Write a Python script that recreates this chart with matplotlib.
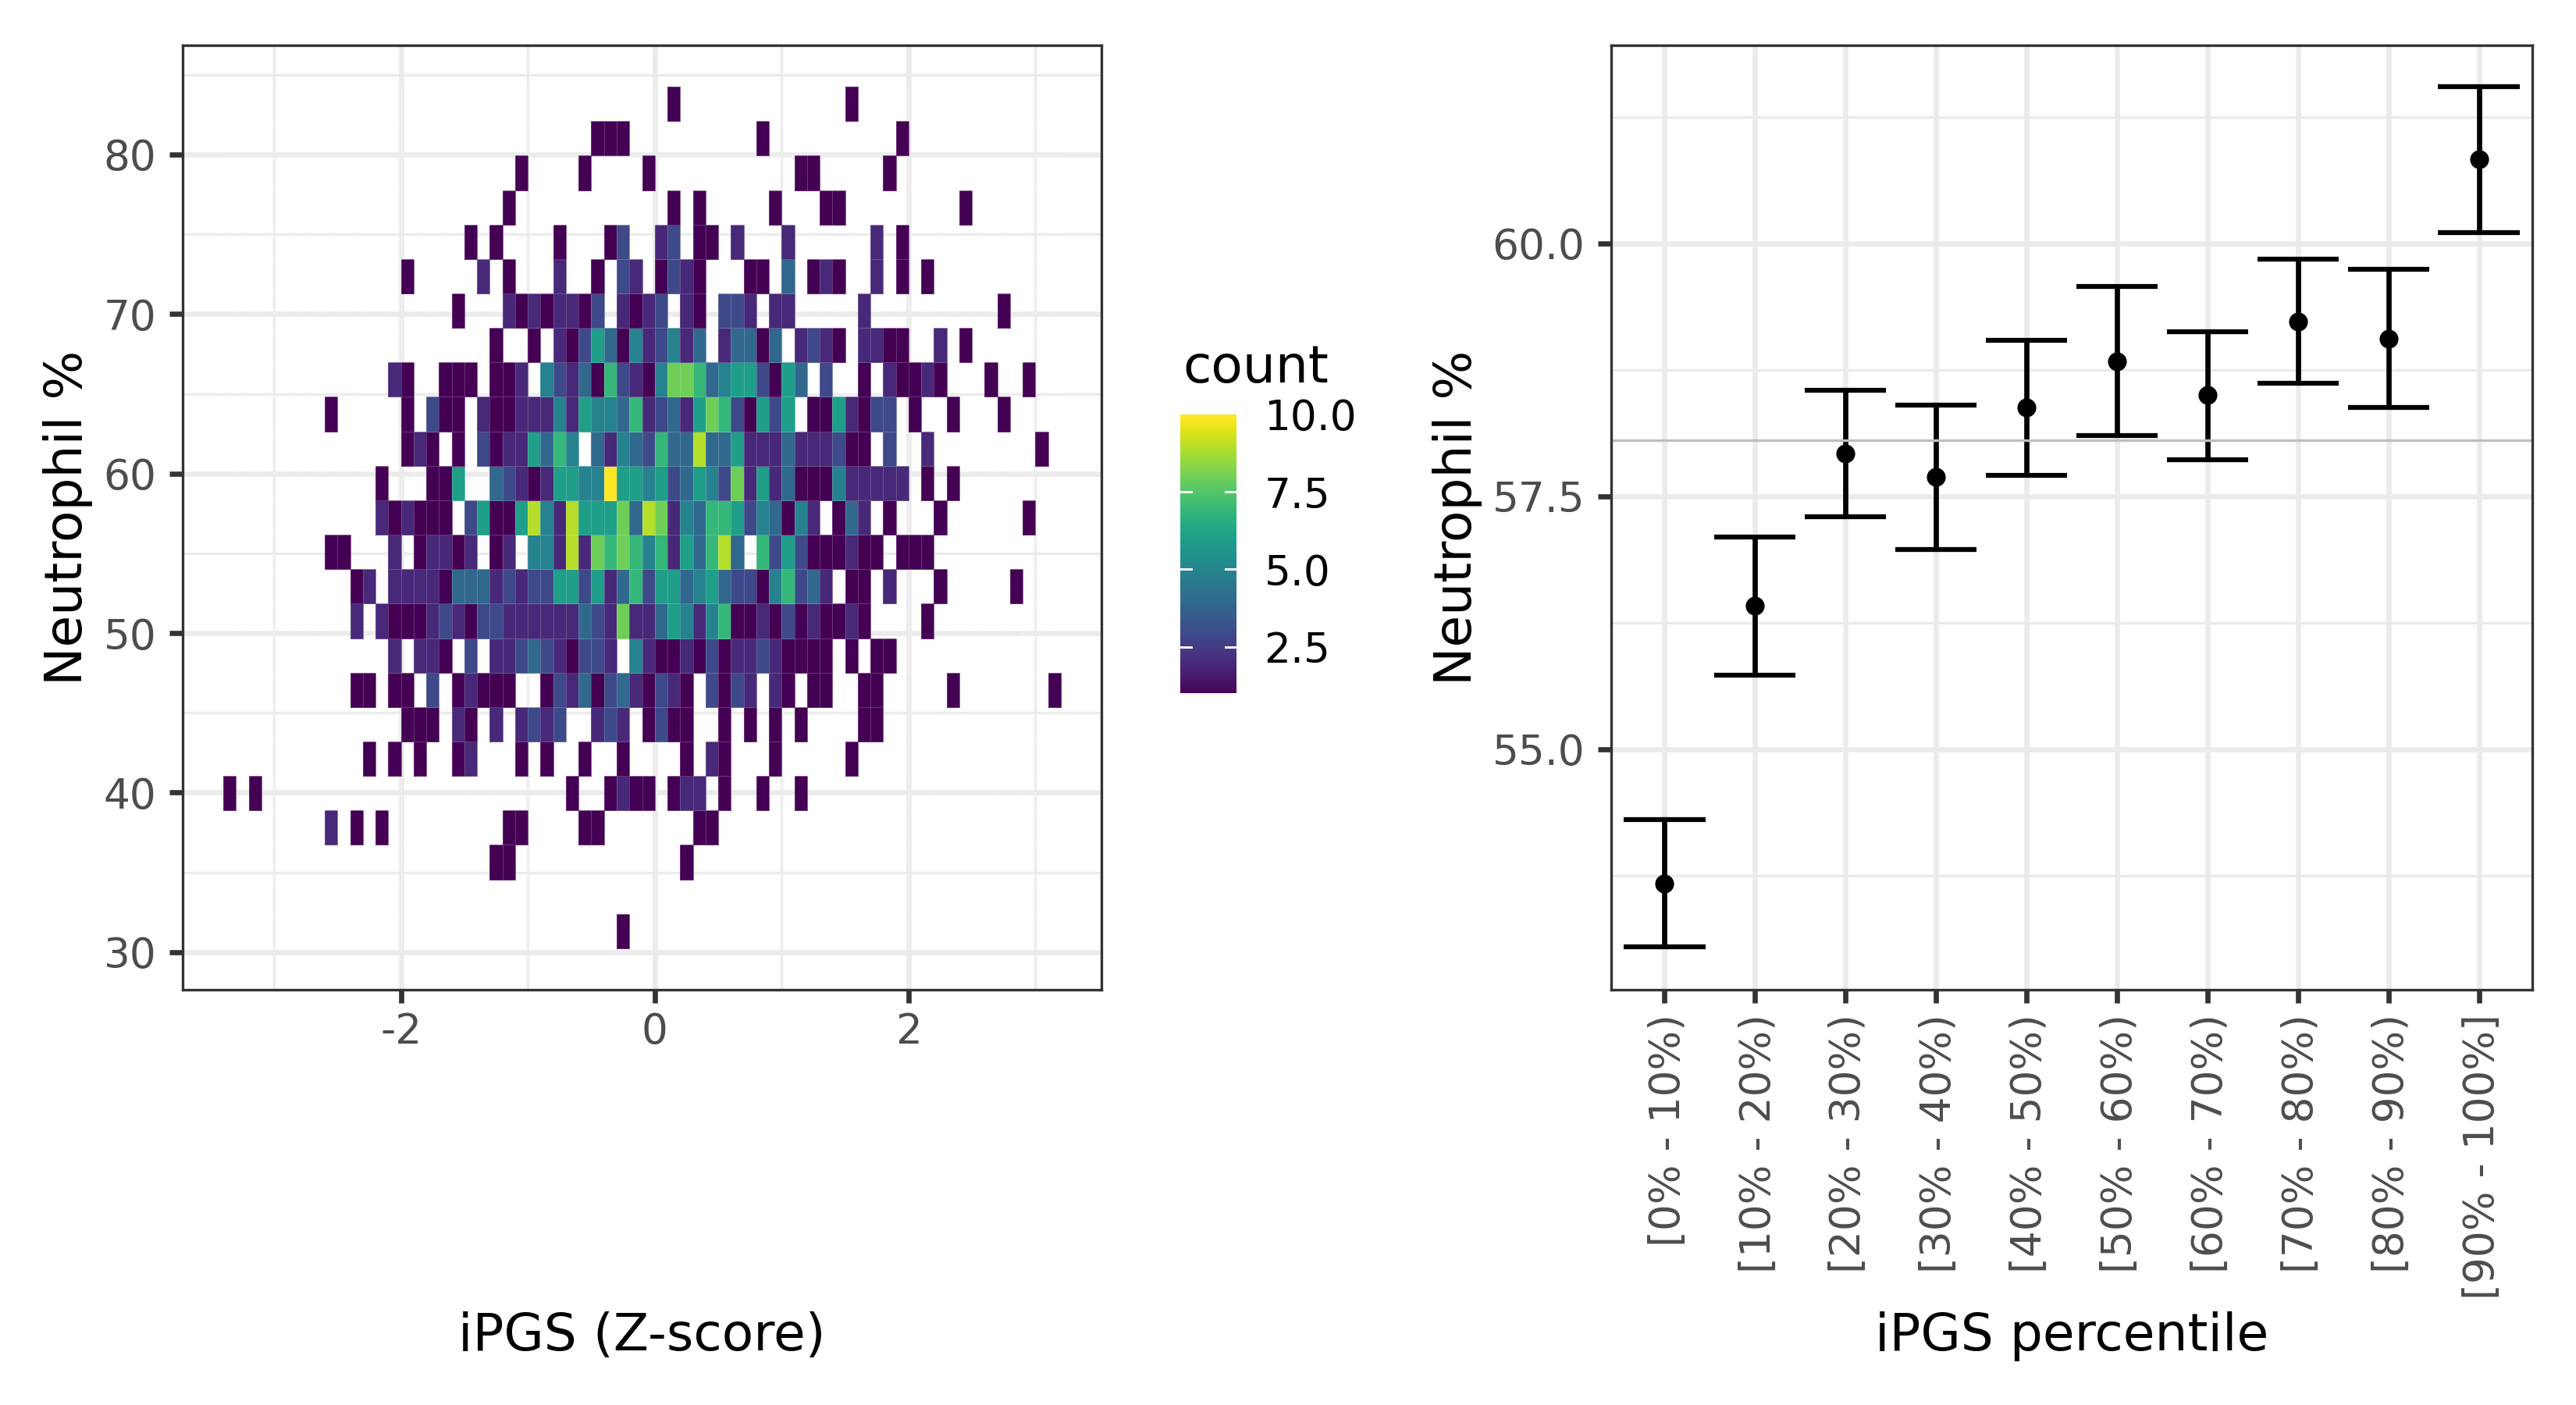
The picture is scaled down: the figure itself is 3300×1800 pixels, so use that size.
import matplotlib
matplotlib.use('Agg')
import matplotlib.pyplot as plt
from matplotlib.transforms import ScaledTranslation
import numpy as np

plt.rcParams['font.family'] = ['DejaVu Sans']
plt.rcParams['axes.unicode_minus'] = False

# Heatmap counts, one dict per row from the top row down: {column: count}
# A column index c is the bin from c*0.1 to (c+1)*0.1 on the x axis
row_00 = {1: 1, 15: 1}
row_01 = {-5: 1, -4: 1, -3: 1, 8: 1, 19: 1}
row_02 = {-11: 1, -6: 1, -1: 1, 11: 1, 12: 1, 18: 1}
row_03 = {-12: 1, 1: 1, 3: 1, 9: 1, 13: 1, 14: 1, 24: 1}
row_04 = {-15: 1, -13: 1, -8: 1, -4: 1, -3: 3, 0: 2, 1: 3, 3: 1, 4: 1, 6: 2, 10: 2, 17: 2, 19: 1}
row_05 = {-20: 1, -14: 2, -12: 1, -8: 2, -5: 1, -3: 3, -2: 2, 0: 1, 1: 3, 2: 2, 3: 1, 7: 1, 8: 1,
          10: 4, 12: 1, 13: 2, 14: 1, 17: 2, 19: 1, 21: 1}
row_06 = {-16: 1, -12: 2, -11: 1, -10: 2, -9: 1, -8: 2, -7: 2, -6: 1, -5: 3, -3: 2, -2: 1, -1: 2,
          0: 3, 2: 2, 3: 1, 5: 3, 6: 3, 7: 2, 9: 2, 10: 2, 16: 2, 27: 1}
row_07 = {-13: 1, -10: 1, -8: 2, -7: 1, -6: 3, -5: 6, -4: 4, -3: 1, -2: 5, -1: 2, 0: 3, 1: 5, 2: 2,
          3: 4, 5: 2, 6: 4, 7: 4, 8: 1, 9: 4, 11: 2, 12: 3, 13: 2, 14: 1, 16: 2, 17: 2, 18: 1,
          19: 1, 22: 2, 24: 1}
row_08 = {-21: 2, -20: 1, -17: 1, -16: 1, -15: 1, -13: 1, -12: 1, -11: 2, -9: 5, -8: 3, -7: 2,
          -6: 4, -5: 1, -4: 7, -3: 3, -2: 2, -1: 1, 0: 5, 1: 8, 2: 8, 3: 7, 4: 4, 5: 5, 6: 6, 7: 6,
          8: 3, 9: 1, 10: 6, 11: 4, 13: 3, 16: 1, 18: 2, 19: 1, 20: 1, 21: 2, 22: 1, 26: 1, 29: 1}
row_09 = {-26: 1, -20: 1, -18: 3, -17: 1, -16: 1, -14: 2, -13: 1, -12: 1, -11: 2, -10: 2, -9: 2,
          -8: 5, -7: 2, -6: 6, -5: 5, -4: 5, -3: 4, -2: 7, -1: 2, 0: 3, 1: 4, 2: 2, 3: 6, 4: 8,
          5: 7, 6: 3, 7: 1, 8: 6, 9: 3, 10: 6, 12: 1, 13: 1, 14: 6, 15: 2, 16: 1, 17: 3, 18: 3,
          20: 1, 23: 1, 27: 1}
row_10 = {-20: 1, -19: 2, -18: 1, -16: 1, -14: 3, -13: 1, -12: 2, -11: 2, -10: 6, -9: 4, -8: 7,
          -7: 5, -5: 4, -4: 2, -3: 5, -2: 4, -1: 3, 0: 7, 1: 4, 2: 4, 3: 9, 4: 4, 5: 4, 6: 6, 7: 2,
          8: 2, 9: 2, 10: 4, 11: 2, 12: 2, 13: 2, 14: 3, 15: 1, 16: 1, 18: 3, 21: 2, 30: 1}
row_11 = {-22: 1, -18: 1, -17: 1, -16: 6, -13: 4, -12: 3, -11: 2, -10: 1, -9: 2, -8: 6, -7: 6,
          -6: 5, -5: 5, -4: 10, -3: 6, -2: 6, -1: 5, 0: 6, 1: 3, 2: 4, 3: 6, 4: 5, 5: 3, 6: 8,
          7: 2, 8: 6, 9: 2, 10: 4, 11: 1, 12: 1, 13: 1, 14: 5, 15: 2, 16: 2, 17: 2, 18: 2, 19: 2,
          21: 1, 23: 1}
row_12 = {-22: 2, -21: 1, -20: 2, -19: 1, -18: 1, -17: 1, -15: 3, -14: 6, -13: 1, -12: 1, -11: 6,
          -10: 9, -9: 5, -8: 2, -7: 9, -6: 6, -5: 6, -4: 6, -3: 8, -2: 4, -1: 9, 0: 8, 1: 2, 2: 5,
          3: 4, 4: 7, 5: 7, 6: 6, 7: 3, 8: 5, 9: 4, 10: 1, 11: 5, 12: 2, 14: 1, 15: 4, 16: 2,
          18: 1, 22: 1, 29: 1}
row_13 = {-26: 1, -25: 1, -21: 2, -19: 1, -18: 2, -17: 2, -16: 1, -15: 2, -13: 1, -12: 2, -10: 5,
          -9: 5, -8: 2, -7: 9, -6: 2, -5: 8, -4: 7, -3: 8, -2: 7, -1: 5, 0: 7, 1: 2, 2: 6, 3: 4,
          4: 7, 5: 9, 6: 4, 8: 7, 9: 3, 10: 6, 11: 3, 12: 1, 13: 1, 14: 1, 15: 2, 16: 1, 17: 1,
          19: 1, 20: 1, 21: 1}
row_14 = {-24: 1, -23: 2, -21: 2, -20: 2, -19: 2, -18: 2, -17: 1, -16: 4, -15: 4, -14: 4, -13: 2,
          -12: 3, -11: 2, -10: 3, -9: 3, -8: 6, -7: 6, -6: 3, -5: 6, -4: 2, -3: 4, -2: 7, -1: 3,
          0: 6, 1: 6, 2: 4, 3: 5, 4: 6, 5: 4, 6: 3, 7: 3, 8: 1, 9: 5, 10: 7, 11: 3, 12: 4, 13: 2,
          15: 1, 16: 1, 18: 2, 22: 1, 28: 1}
row_15 = {-24: 2, -22: 2, -21: 1, -20: 1, -19: 1, -18: 2, -17: 3, -16: 2, -15: 1, -14: 3, -13: 3,
          -12: 2, -11: 2, -10: 2, -9: 2, -8: 2, -7: 2, -6: 4, -5: 3, -4: 2, -3: 8, -2: 2, -1: 2,
          0: 4, 1: 6, 2: 5, 3: 2, 4: 5, 5: 7, 6: 1, 7: 1, 8: 2, 9: 1, 10: 3, 11: 1, 12: 2, 13: 1,
          14: 1, 15: 2, 16: 1, 21: 1}
row_16 = {-21: 2, -19: 2, -18: 2, -17: 1, -15: 3, -13: 2, -12: 2, -11: 3, -10: 4, -9: 3, -8: 2,
          -7: 1, -6: 3, -5: 3, -4: 2, -2: 5, -1: 2, 0: 1, 1: 1, 2: 2, 3: 1, 4: 3, 5: 1, 6: 2, 7: 2,
          8: 3, 9: 2, 10: 1, 11: 1, 12: 1, 13: 1, 15: 1, 17: 1, 18: 1}
row_17 = {-24: 1, -23: 1, -21: 1, -20: 1, -18: 3, -16: 1, -15: 2, -14: 1, -13: 1, -12: 1, -9: 1,
          -8: 3, -7: 2, -6: 4, -5: 1, -4: 3, -3: 4, -2: 2, -1: 1, 0: 3, 1: 2, 2: 1, 4: 3, 5: 1,
          6: 3, 7: 2, 9: 2, 10: 1, 12: 1, 13: 1, 16: 1, 17: 1, 23: 1, 31: 1}
row_18 = {-20: 1, -19: 1, -18: 1, -16: 2, -15: 1, -13: 2, -11: 2, -10: 3, -9: 2, -8: 3, -5: 2,
          -4: 3, -3: 2, -1: 1, 0: 3, 1: 1, 2: 1, 5: 1, 7: 1, 9: 1, 11: 1, 16: 1, 17: 1}
row_19 = {-23: 1, -21: 1, -19: 1, -16: 1, -15: 2, -11: 1, -9: 1, -6: 1, -3: 1, 2: 1, 4: 2, 5: 1,
          9: 1, 15: 1}
row_20 = {-34: 1, -32: 1, -7: 1, -4: 1, -3: 2, -2: 1, -1: 1, 1: 1, 2: 2, 3: 2, 5: 1, 8: 1, 11: 1}
row_21 = {-26: 2, -24: 1, -22: 1, -12: 1, -11: 1, -6: 1, -5: 1, 3: 1, 4: 1}
row_22 = {-13: 1, -12: 1, 2: 1}
row_23 = {}
row_24 = {-3: 1}
heat_rows = [row_00, row_01, row_02, row_03, row_04, row_05, row_06, row_07, row_08, row_09,
             row_10, row_11, row_12, row_13, row_14, row_15, row_16, row_17, row_18, row_19,
             row_20, row_21, row_22, row_23, row_24]

# Bin layout of the heatmap
x_bin = 0.1
first_col = -34
last_col = 31
y_bottom = 30.24
y_bin = 2.1604

# Percentile panel
percentile_labels = ['[0% - 10%)', '[10% - 20%)', '[20% - 30%)', '[30% - 40%)', '[40% - 50%)',
                     '[50% - 60%)', '[60% - 70%)', '[70% - 80%)', '[80% - 90%)', '[90% - 100%]']
means = [53.67, 56.415, 57.924, 57.69, 58.375, 58.836, 58.50, 59.23, 59.06, 60.833]
upper = [54.304, 57.10, 58.55, 58.40, 59.04, 59.573, 59.13, 59.845, 59.745, 61.553]
lower = [53.045, 55.73, 57.30, 56.97, 57.71, 58.10, 57.865, 58.62, 58.38, 60.11]
overall_mean = 58.054

W, H = 3300, 1800
ink = '#333333'
label_grey = '#4D4D4D'
grid_grey = '#EBEBEB'
major_lw = 1.6
minor_lw = 0.8
title_size = 15.9
tick_size = 12.8


def px_axes(fig, left, top, right, bottom):
    # axes from pixel edges, y counted from the top of the picture
    return fig.add_axes([left / W, 1 - bottom / H, (right - left) / W, (bottom - top) / H])


def style_panel(ax):
    ax.set_axisbelow(True)
    ax.grid(which='major', color=grid_grey, lw=major_lw)
    ax.grid(which='minor', color=grid_grey, lw=minor_lw)
    ax.tick_params(which='major', length=4.1, width=1.6, color=ink, labelcolor=label_grey,
                   labelsize=tick_size)
    ax.tick_params(which='minor', length=0)
    for spine in ax.spines.values():
        spine.set_color(ink)
        spine.set_linewidth(0.8)
        spine.set_zorder(5)


fig = plt.figure(figsize=(W / 300, H / 300), dpi=300, facecolor='white')

# Left panel: 2D histogram
counts = np.full((len(heat_rows), last_col - first_col + 1), np.nan)
for r, row in enumerate(heat_rows):
    for col, n in row.items():
        counts[len(heat_rows) - 1 - r, col - first_col] = n
x_edges = np.arange(first_col, last_col + 2) * x_bin
y_edges = y_bottom + y_bin * np.arange(len(heat_rows) + 1)

ax1 = px_axes(fig, 234, 58, 1411, 1268)
mesh = ax1.pcolormesh(x_edges, y_edges, counts, cmap='viridis', vmin=1, vmax=10,
                      edgecolors=(1, 1, 1, 0.2), linewidth=0.15, zorder=2)
ax1.set_xlim(-3.72, 3.52)
ax1.set_ylim(27.64, 86.85)
ax1.set_xticks([-2, 0, 2])
ax1.set_xticks([-3, -1, 1, 3], minor=True)
ax1.set_yticks([30, 40, 50, 60, 70, 80])
ax1.set_yticks([35, 45, 55, 65, 75, 85], minor=True)
style_panel(ax1)
ax1.tick_params(axis='x', which='major', pad=2.6)
ax1.tick_params(axis='y', which='major', pad=4)

# Legend for the left panel
cax = px_axes(fig, 1512, 531, 1584, 888)
cbar = fig.colorbar(mesh, cax=cax, ticks=[2.5, 5, 7.5, 10], format='%.1f')
cbar.outline.set_visible(False)
cbar.solids.set_edgecolor('face')
cax.tick_params(length=0, pad=8.5, labelsize=tick_size, labelcolor='black')
for t in [2.5, 5, 7.5]:
    cax.plot([0, 0.2], [t, t], color='white', lw=0.7, transform=cax.get_yaxis_transform())
    cax.plot([0.8, 1], [t, t], color='white', lw=0.7, transform=cax.get_yaxis_transform())
fig.text(1515 / W, 1 - 490 / H, 'count', fontsize=title_size, ha='left', va='baseline')

# Right panel: mean and error bars per percentile group
positions = np.arange(1, len(means) + 1)
ax2 = px_axes(fig, 2064, 58, 3244, 1268)
ax2.vlines(positions, lower, upper, color='black', lw=1.6, zorder=3)
ax2.hlines(upper, positions - 0.45, positions + 0.45, color='black', lw=1.5, zorder=3)
ax2.hlines(lower, positions - 0.45, positions + 0.45, color='black', lw=1.5, zorder=3)
ax2.axhline(overall_mean, color='#BEBEBE', lw=0.8, zorder=3.5)
ax2.plot(positions, means, 'o', color='black', ms=5.8, mew=0, zorder=4)
ax2.set_xlim(0.41, 10.59)
ax2.set_ylim(52.62, 61.96)
ax2.set_xticks(positions)
ax2.set_xticklabels(percentile_labels, rotation=90, ha='center', va='top')
ax2.set_yticks([55, 57.5, 60])
ax2.set_yticklabels(['55.0', '57.5', '60.0'])
ax2.set_yticks([53.75, 56.25, 58.75, 61.25], minor=True)
style_panel(ax2)
ax2.tick_params(axis='x', which='major', pad=3.4)
ax2.tick_params(axis='y', which='major', pad=4)

# rotated labels sit a little right of their ticks in the original
nudge = ScaledTranslation(1.0 / 72, 0, fig.dpi_scale_trans)
for label in ax2.get_xticklabels():
    label.set_transform(label.get_transform() + nudge)

# Axis titles
fig.text(822 / W, 1 - 1730 / H, 'iPGS (Z-score)', fontsize=title_size, ha='center', va='baseline')
fig.text(2654 / W, 1 - 1730 / H, 'iPGS percentile', fontsize=title_size, ha='center', va='baseline')
fig.text(105 / W, 1 - 663 / H, 'Neutrophil %', fontsize=title_size, rotation=90, ha='center',
         va='baseline', rotation_mode='anchor')
fig.text(1885 / W, 1 - 663 / H, 'Neutrophil %', fontsize=title_size, rotation=90, ha='center',
         va='baseline', rotation_mode='anchor')

plt.savefig('out.png', dpi=300, facecolor='white')
plt.close()
